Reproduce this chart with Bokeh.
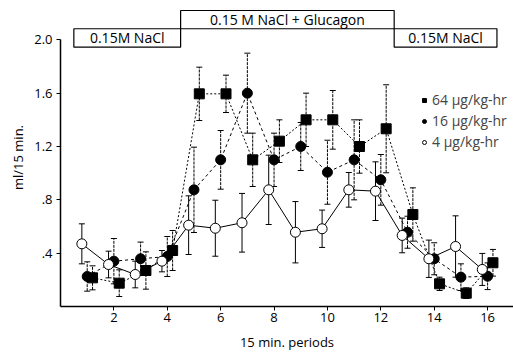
from bokeh.plotting import figure
from bokeh.models import (ColumnDataSource, Whisker, TeeHead, FixedTicker,
                          Legend, LegendItem, Range1d)
from bokeh.embed import file_html
from bokeh.resources import INLINE
from bokeh.core.properties import value

# ---- data ----
periods = list(range(1, 17))

dose_64 = [0.215, 0.175, 0.27, 0.42, 1.595, 1.595, 1.10, 1.24, 1.40, 1.40,
           1.20, 1.333, 0.69, 0.17, 0.10, 0.328]
err_64 = [0.09, 0.10, 0.14, 0.15, 0.20, 0.14, 0.20, 0.16, 0.20, 0.22,
          0.20, 0.33, 0.20, 0.05, 0.04, 0.10]

dose_16 = [0.225, 0.34, 0.358, 0.375, 0.875, 1.10, 1.60, 1.10, 1.20, 1.007,
           1.10, 0.95, 0.557, 0.358, 0.22, 0.227]
err_16 = [0.11, 0.17, 0.125, 0.15, 0.32, 0.22, 0.30, 0.20, 0.18, 0.24,
          0.30, 0.19, 0.12, 0.12, 0.10, 0.10]

dose_4 = [0.47, 0.315, 0.24, 0.34, 0.61, 0.587, 0.628, 0.875, 0.557, 0.583,
          0.875, 0.865, 0.533, 0.358, 0.45, 0.278]
err_4 = [0.15, 0.10, 0.10, 0.08, 0.22, 0.21, 0.22, 0.26, 0.23, 0.14,
         0.13, 0.22, 0.13, 0.14, 0.23, 0.12]

series_labels = ["64 \u00b5g/kg-hr", "16 \u00b5g/kg-hr", "4 \u00b5g/kg-hr"]

phase_labels = ["0.15M NaCl", "0.15 M NaCl + Glucagon", "0.15M NaCl"]
phase_start = [0.5, 4.5, 12.5]
phase_end = [4.5, 12.5, 16.35]
phase_bottom = [1.945, 2.083, 1.945]
phase_top = [2.083, 2.22, 2.083]

x_ticks = [2, 4, 6, 8, 10, 12, 14, 16]
y_ticks = [0.4, 0.8, 1.2, 1.6, 2.0]
y_tick_labels = [".4", ".8", "1.2", "1.6", "2.0"]

FONT = "Open Sans"

p = figure(width=513, height=353, output_backend="svg", toolbar_location=None,
           x_range=Range1d(0, 16.97), y_range=Range1d(0, 2.235),
           min_border_left=60, min_border_right=0, min_border_top=8,
           min_border_bottom=47)
p.outline_line_color = None
p.grid.visible = False
p.background_fill_color = "white"

# condition boxes
p.quad(left=phase_start, right=phase_end, bottom=phase_bottom, top=phase_top,
       fill_color=None, line_color="black", line_width=1.2)
p.text(x=[(a + b) / 2 for a, b in zip(phase_start, phase_end)],
       y=[(a + b) / 2 for a, b in zip(phase_bottom, phase_top)],
       text=phase_labels, text_align="center", text_baseline="middle",
       text_font=value(FONT), text_font_size="14px", text_color="black")

specs = [
    (dose_64, err_64, 0.2, "square", "black", "2 2"),
    (dose_16, err_16, 0.0, "circle", "black", "3 3"),
    (dose_4, err_4, -0.2, "circle", "white", "solid"),
]
marker_renderers = []
for vals, errs, off, marker, fill, dash in specs:
    xs = [t + off for t in periods]
    src = ColumnDataSource(dict(x=xs, y=vals,
                                upper=[v + e for v, e in zip(vals, errs)],
                                lower=[v - e for v, e in zip(vals, errs)]))
    w = Whisker(base="x", upper="upper", lower="lower", source=src,
                line_color="black", line_width=1,
                line_dash="solid" if dash == "solid" else "3 1",
                upper_head=TeeHead(size=6, line_color="black", line_width=1),
                lower_head=TeeHead(size=6, line_color="black", line_width=1),
                level="underlay")
    p.add_layout(w)
    p.line("x", "y", source=src, line_color="black", line_width=1,
           line_dash=dash)
    r = p.scatter("x", "y", source=src, marker=marker, size=10,
                  fill_color=fill, line_color="black", line_width=1)
    marker_renderers.append(r)

legend = Legend(items=[LegendItem(label=lab, renderers=[r])
                       for lab, r in zip(series_labels, marker_renderers)],
                location=(359, 155), glyph_width=10, glyph_height=10,
                label_standoff=3, spacing=2, padding=0, margin=0,
                border_line_color=None, background_fill_alpha=0,
                label_text_font=FONT, label_text_font_size="14px",
                label_height=16)
p.add_layout(legend)

# axes
p.xaxis.ticker = FixedTicker(ticks=x_ticks)
p.yaxis.ticker = FixedTicker(ticks=y_ticks)
p.yaxis.major_label_overrides = {t: s for t, s in zip(y_ticks, y_tick_labels)}
p.yaxis.bounds = (0, 2.0)
for ax in (p.xaxis[0], p.yaxis[0]):
    ax.axis_line_color = "black"
    ax.axis_line_width = 1.5
    ax.major_tick_line_color = "black"
    ax.major_tick_out = 4
    ax.major_tick_in = 0
    ax.minor_tick_line_color = None
    ax.major_label_text_font = FONT
    ax.major_label_text_font_size = "13px"
    ax.major_label_text_color = "black"
    ax.axis_label_text_font = FONT
    ax.axis_label_text_font_size = "13px"
    ax.axis_label_text_font_style = "normal"
    ax.axis_label_text_color = "black"
p.xaxis.axis_label = "15 min. periods"
p.yaxis.axis_label = "ml/15 min."
p.xaxis.major_label_standoff = 2
p.xaxis.axis_label_standoff = 8
p.yaxis.major_label_standoff = 4
p.yaxis.axis_label_standoff = 4

open("out.html", "w").write(file_html(p, INLINE))
